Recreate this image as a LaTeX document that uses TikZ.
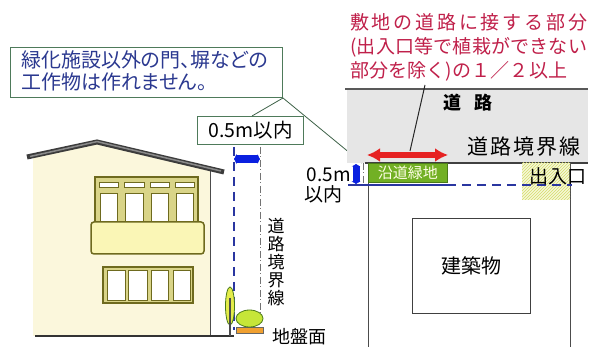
\documentclass[tikz,border=0pt]{standalone}
\usepackage{fontspec}
\setmainfont{Noto Sans CJK JP}
\newfontfamily\jpprop[RawFeature=+palt]{Noto Sans CJK JP}
\usetikzlibrary{arrows.meta,patterns}

\definecolor{wallcream}{HTML}{FBF7DC}
\definecolor{roofdark}{HTML}{3C3C3C}
\definecolor{roofmid}{HTML}{8A8A8A}
\definecolor{olivedark}{HTML}{6E6A1E}
\definecolor{olivefill}{HTML}{D9D488}
\definecolor{balconyfill}{HTML}{FAF6B6}
\definecolor{boxgreen}{HTML}{4E7A5A}
\definecolor{navytext}{HTML}{2B3990}
\definecolor{redtext}{HTML}{C0204A}
\definecolor{roadgray}{HTML}{E6E6E6}
\definecolor{lineblue}{HTML}{2A36A0}
\definecolor{brightblue}{HTML}{0A20E0}
\definecolor{arrowred}{HTML}{E62222}
\definecolor{greenbelt}{HTML}{72B024}
\definecolor{greenedge}{HTML}{4A7A18}
\definecolor{leafgreen}{HTML}{C6E638}
\definecolor{treeyellow}{HTML}{E4EC4A}
\definecolor{planter}{HTML}{F0A030}
\definecolor{hatchgreen}{HTML}{D4DC6A}
\definecolor{hatchbg}{HTML}{F6F8D8}

\tikzset{
  callout/.style={draw=boxgreen, line width=1pt, fill=white, inner sep=0pt},
  leader/.style={draw=boxgreen!80!black, line width=0.8pt},
  sitefront/.style={draw=black!75, line width=1.1pt},
  bluedash/.style={draw=lineblue, line width=2pt, dash pattern=on 9pt off 6pt},
  greydashdot/.style={draw=black!55, line width=0.8pt, dash pattern=on 7pt off 2.5pt on 1pt off 2.5pt},
  widtharrow/.style={draw=brightblue, line width=8pt, {Latex[length=2.5pt,width=11pt]}-{Latex[length=2.5pt,width=11pt]}},
  pane/.style={fill=white, draw=olivedark, line width=0.9pt},
  txt/.style={inner sep=0pt, text=black},
}

\begin{document}
\begin{tikzpicture}[x=1pt, y=-1pt]
\useasboundingbox (0,0) rectangle (590,347);
\fill[white] (0,0) rectangle (590,347);

% ---------------- elevation: house ----------------
\fill[wallcream] (33,155) -- (97,143) -- (210,167) -- (210,336) -- (33,336) -- cycle;
\draw[black!70, line width=0.9pt] (210,170) -- (210,336);
% roof
\draw[roofdark, line width=5pt, line join=miter] (27,157) -- (97,142) -- (224,172);
\draw[roofmid, line width=1.5pt] (30,156.5) -- (97,141.6) -- (221,171);
% upper windows
\draw[fill=olivefill, draw=olivedark, line width=1.2pt] (95,177) rectangle (198,224);
\foreach \a/\b in {99/118,124/144,150/169,175/194}{
  \draw[pane] (\a,182) rectangle (\b,187);
  \draw[pane] (\a+1,193) rectangle (\b-1,224);
}
% balcony
\draw[fill=balconyfill, draw=olivedark, line width=1.5pt, rounded corners=3pt] (91,222) rectangle (204,254);
% lower windows
\draw[fill=olivefill, draw=olivedark, line width=1.2pt] (103,267) rectangle (193,303);
\foreach \a/\b in {107/125,128/147,151/168,173/190}{
  \draw[pane] (\a,270) rectangle (\b,300);
}
% ground line
\draw[black!80, line width=1.5pt] (35,336) -- (234,336);

% road boundary lines in elevation
\draw[bluedash] (234,147) -- (234,330);
\draw[greydashdot] (260,147) -- (260,322);
\coordinate (ewl) at (234,159);
\coordinate (ewr) at (260,159);
\draw[widtharrow] (ewl) -- (ewr);

% planting
\draw[fill=treeyellow, draw=greenedge, line width=0.8pt] (230,306) ellipse [x radius=4.5pt, y radius=19pt];
\draw[black!70, line width=1.3pt] (230,298) -- (230,336);
\draw[fill=planter, draw=black!60, line width=0.8pt] (236,327) rectangle (263,333);
\draw[fill=leafgreen, draw=greenedge, line width=0.8pt] (249.5,318.5) ellipse [x radius=13.5pt, y radius=8.5pt];

% vertical label
\node[txt, align=center, font=\fontsize{17}{18}\selectfont] (vlabel) at (276,262) {道\\路\\境\\界\\線};
\node[txt, anchor=west, font=\fontsize{18}{18}\selectfont] (ground) at (272,337) {地盤面};

% ---------------- callouts ----------------
\node[callout, minimum width=272pt, minimum height=50pt, anchor=north west] (note) at (10,47) {};
\node[txt, anchor=west, text=navytext, align=left, font=\jpprop\fontsize{20}{22}\selectfont] (notetext) at (21,71)
  {緑化施設以外の門、塀などの\\工作物は作れません。};
\node[callout, minimum width=106pt, minimum height=28pt, anchor=north west] (half) at (197,116) {};
\node[txt, font=\fontsize{19.5}{19.5}\selectfont] (halftext) at (half.center) {0.5m以内};
\coordinate (plancorner) at (362,163);
\draw[leader] (note.south east) -- (half.north -| 252,0);
\draw[leader] (note.south east) -- (plancorner);

% ---------------- plan view ----------------
\fill[roadgray] (347,89) rectangle (588,163);
\draw[black!65, line width=2pt] (345,89) -- (588,89);
\node[txt, font=\fontsize{18}{18}\selectfont\bfseries] (road) at (468,103) {道\hspace{14pt}路};
\node[txt, anchor=west, font=\fontsize{21}{21}\selectfont] (boundary) at (467,147)
  {\makebox[113pt][s]{道\hfil 路\hfil 境\hfil 界\hfil 線}};

% site
\draw[sitefront] (365,163) -- (588,163);
\draw[black!70, line width=1pt] (368,163) -- (368,347);
\draw[black!70, line width=1pt] (570,163) -- (570,347);

% entrance
\fill[hatchbg] (522,163) rectangle (570,200);
\fill[pattern=north east lines, pattern color=hatchgreen] (522,163) rectangle (570,200);

% setback line
\draw[lineblue, line width=2pt] (348,185) -- (447,185);
\draw[bluedash] (447,185) -- (572,185);

% green strip
\node[draw=greenedge, fill=greenbelt, line width=0.8pt, minimum width=79pt, minimum height=19pt, anchor=north west, inner sep=0pt] (belt) at (368,163) {};
\node[txt, text=white!90!yellow, font=\fontsize{15}{15}\selectfont] (belttext) at (belt.center) {沿道緑地};

\node[txt, font=\fontsize{19}{19}\selectfont] (entrance) at (558,176) {出入口};

% 0.5 m setback marker
\draw[greydashdot] (363,163) -- (363,185);
\coordinate (pvt) at (356,164);
\coordinate (pvb) at (356,184);
\draw[draw=brightblue, line width=7pt, {Latex[length=2.5pt,width=10pt]}-{Latex[length=2.5pt,width=10pt]}] (pvt) -- (pvb);
\node[txt, anchor=east, font=\fontsize{19}{19}\selectfont] (setback) at (351,175) {0.5m};
\node[txt, anchor=west, font=\fontsize{19}{19}\selectfont] (setback2) at (304,194) {以内};

% building
\node[draw=black!75, line width=1.1pt, minimum width=118pt, minimum height=95pt, anchor=north west, inner sep=0pt] (bldg) at (412,218) {};
\node[txt, font=\fontsize{20}{20}\selectfont] (bldgtext) at (bldg.center) {建築物};

% frontage arrow
\coordinate (fal) at (367,155);
\coordinate (far) at (448,155);
\draw[draw=arrowred, line width=6pt, {Latex[length=13pt,width=14pt]}-{Latex[length=13pt,width=14pt]}] (fal) -- (far);

% red requirement text
\begin{scope}[every node/.style={txt, anchor=west, text=redtext, font=\fontsize{19}{19}\selectfont}]
\node (req1) at (350,22) {\makebox[237pt][s]{敷\hfil 地\hfil の\hfil 道\hfil 路\hfil に\hfil 接\hfil す\hfil る\hfil 部\hfil 分}};
\node (req2) at (350,47) {\makebox[237pt][s]{(\hfil 出\hfil 入\hfil 口\hfil 等\hfil で\hfil 植\hfil 栽\hfil が\hfil で\hfil き\hfil な\hfil い}};
\node (req3) at (350,71) {\makebox[217pt][s]{部\hfil 分\hfil を\hfil 除\hfil く\hfil )\hfil の\hfil １\hfil ／\hfil ２\hfil 以\hfil 上}};
\end{scope}
\coordinate (reqfoot) at (425,85);
\coordinate (arrowtop) at (410,151);
\draw[black!85, line width=1pt] (reqfoot) -- (arrowtop);

\end{tikzpicture}
\end{document}
